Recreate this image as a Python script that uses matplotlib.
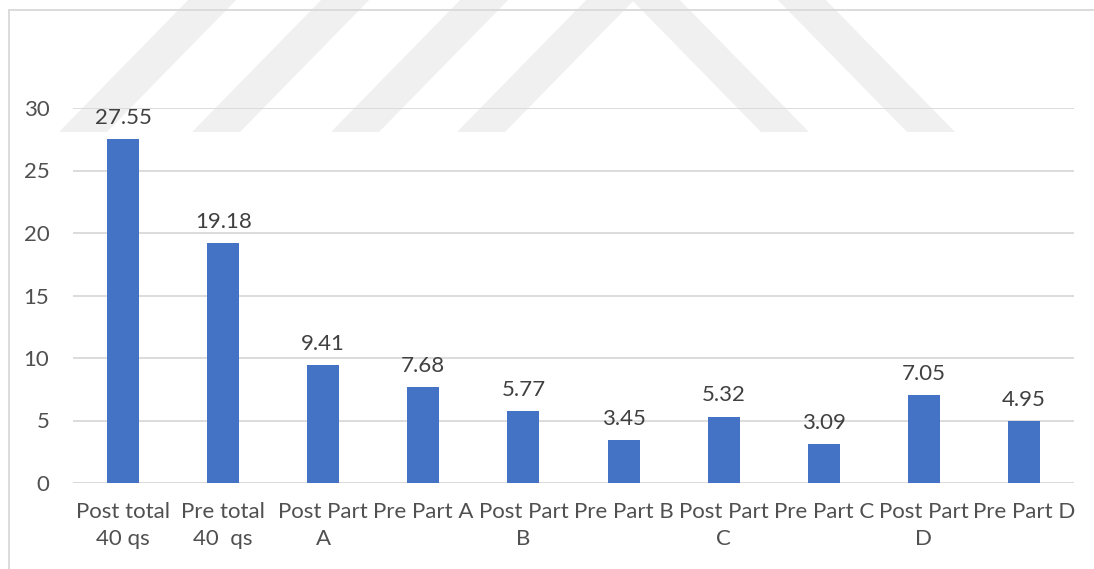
import matplotlib
matplotlib.use('Agg')
import matplotlib.pyplot as plt
from matplotlib.patches import Polygon

# 数据
categories = ['Post total\n40 qs', 'Pre total\n40  qs', 'Post Part\nA', 'Pre Part A',
              'Post Part\nB', 'Pre Part B', 'Post Part\nC', 'Pre Part C',
              'Post Part\nD', 'Pre Part D']
scores = [27.55, 19.18, 9.41, 7.68, 5.77, 3.45, 5.32, 3.09, 7.05, 4.95]
y_ticks = [0, 5, 10, 15, 20, 25, 30]

plt.rcParams['font.family'] = ['Lato', 'DejaVu Sans']

W, H = 1094, 569
fig = plt.figure(figsize=(W / 100, H / 100), dpi=100)

# 背景水印（浅灰斜条纹）
def px(x, y):
    return (x / W, 1 - y / H)

wm = '#f0f0f0'
for x0 in [59, 192, 331, 457]:
    pts = [px(x0, 132), px(x0 + 48, 132), px(x0 + 48 + 135, -6), px(x0 + 135, -6)]
    fig.patches.append(Polygon(pts, closed=True, transform=fig.transFigure,
                               facecolor=wm, edgecolor='none', zorder=-5))
for x0 in [761, 907]:
    pts = [px(x0, 132), px(x0 + 48, 132), px(x0 + 48 - 135, -6), px(x0 - 135, -6)]
    fig.patches.append(Polygon(pts, closed=True, transform=fig.transFigure,
                               facecolor=wm, edgecolor='none', zorder=-5))

# 图表外框（左、上）
fig.lines.append(plt.Line2D([9 / W, 9 / W], [0, 1 - 10 / H], transform=fig.transFigure,
                            color='#d9d9d9', lw=1.3, zorder=-4))
fig.lines.append(plt.Line2D([9 / W, 1], [1 - 10 / H, 1 - 10 / H], transform=fig.transFigure,
                            color='#d9d9d9', lw=1.3, zorder=-4))

ax = fig.add_axes([73 / W, 1 - 483 / H, (1074 - 73) / W, (483 - 108) / H])
ax.patch.set_alpha(0)

x = list(range(len(categories)))
bars = ax.bar(x, scores, width=0.32, color='#4472c4', zorder=3)

for xi, v in zip(x, scores):
    ax.annotate(f'{v:.2f}', (xi, v), xytext=(0, 8), textcoords='offset points',
                ha='center', va='bottom', fontsize=16, color='#404040',
                annotation_clip=False)

ax.set_xlim(-0.5, len(categories) - 0.5)
ax.set_ylim(0, 30)
ax.set_yticks(y_ticks)
ax.yaxis.grid(True, color='#d9d9d9', lw=1.3, zorder=0)
ax.set_axisbelow(True)
ax.set_xticks(x)
ax.set_xticklabels(categories, linespacing=1.4)
ax.tick_params(axis='both', length=0, labelsize=16, colors='#505050')
ax.tick_params(axis='y', pad=17)
ax.tick_params(axis='x', pad=14)
for s in ax.spines.values():
    s.set_visible(False)
ax.axhline(0, color='#d9d9d9', lw=1.3, zorder=1)

plt.savefig('out.png', dpi=100)
